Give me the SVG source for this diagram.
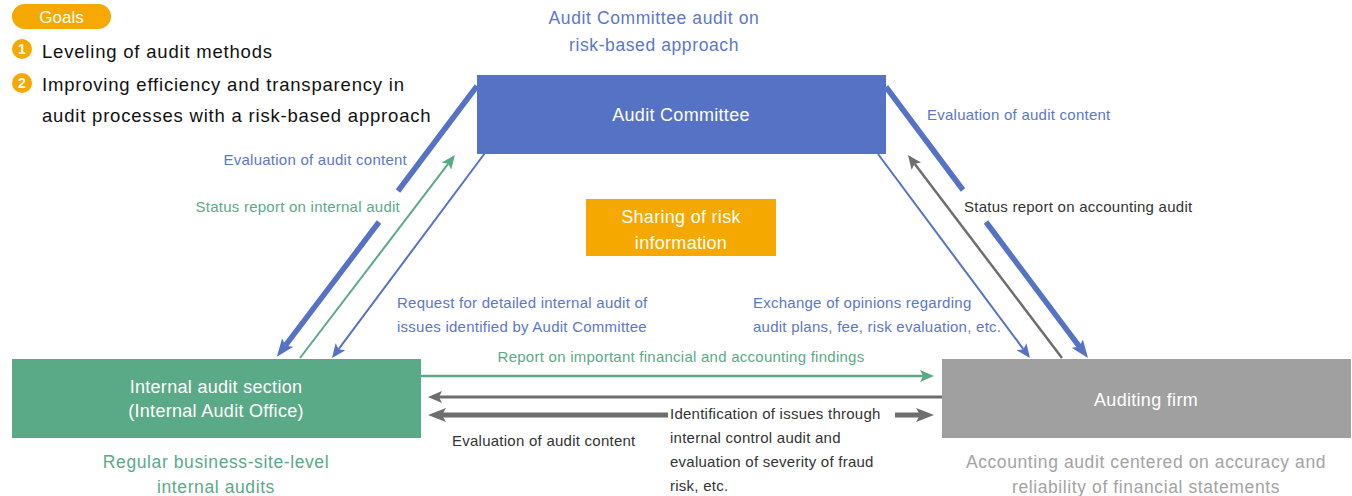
<svg xmlns="http://www.w3.org/2000/svg" width="1352" height="496" viewBox="0 0 1352 496">
<style>
text{font-family:"Liberation Sans",Arial,sans-serif;}
.lbl{font-size:15px;letter-spacing:0.25px;}
.note{font-size:17.5px;letter-spacing:0.6px;}
.blue{fill:#5B78C8;}
.green{fill:#5BAA87;}
.dark{fill:#333333;}
.grayt{fill:#A3A3A3;}
.white{fill:#ffffff;}
.big{font-size:18.5px;letter-spacing:0.8px;fill:#111111;}
.box{font-size:18px;letter-spacing:0.3px;fill:#ffffff;text-anchor:middle;}
</style>
<defs>
<marker id="hBlueThick" markerUnits="userSpaceOnUse" markerWidth="18" markerHeight="14" refX="4" refY="7" orient="auto"><path d="M0,0 L18,7 L0,14 L4,7 z" fill="#5572C4"/></marker>
<marker id="hBlue" markerUnits="userSpaceOnUse" markerWidth="14" markerHeight="12" refX="3" refY="6" orient="auto"><path d="M0,0 L14,6 L0,12 L3,6 z" fill="#5572C4"/></marker>
<marker id="hGreen" markerUnits="userSpaceOnUse" markerWidth="14" markerHeight="12" refX="3" refY="6" orient="auto"><path d="M0,0 L14,6 L0,12 L3,6 z" fill="#5BAA87"/></marker>
<marker id="hGray" markerUnits="userSpaceOnUse" markerWidth="14" markerHeight="12" refX="3" refY="6" orient="auto"><path d="M0,0 L14,6 L0,12 L3,6 z" fill="#6E6E6E"/></marker>
<marker id="hGrayThick" markerUnits="userSpaceOnUse" markerWidth="18" markerHeight="14" refX="4" refY="7" orient="auto"><path d="M0,0 L18,7 L0,14 L4,7 z" fill="#6E6E6E"/></marker>
</defs>

<g id="goals">
<rect x="12" y="4" width="99" height="25" rx="12.5" fill="#F5A800"/>
<text x="61.5" y="22.5" font-size="17" class="white" text-anchor="middle">Goals</text>
<circle cx="22" cy="49" r="10" fill="#F5A800"/>
<text x="22" y="54" font-size="14" font-weight="bold" class="white" text-anchor="middle">1</text>
<circle cx="22" cy="83" r="10" fill="#F5A800"/>
<text x="22" y="88" font-size="14" font-weight="bold" class="white" text-anchor="middle">2</text>
<text x="42" y="58" class="big">Leveling of audit methods</text>
<text x="42" y="91" class="big">Improving efficiency and transparency in</text>
<text x="42" y="122" class="big">audit processes with a risk-based approach</text>
</g>

<g id="committee-note">
<text x="654" y="24" class="note blue" text-anchor="middle">Audit Committee audit on</text>
<text x="654" y="51" class="note blue" text-anchor="middle">risk-based approach</text>
</g>

<g id="connectors" fill="none">
<line x1="477" y1="86" x2="398" y2="191" stroke="#5572C4" stroke-width="5.5"/>
<line x1="379" y1="222" x2="285.3" y2="345.7" stroke="#5572C4" stroke-width="5.5" marker-end="url(#hBlueThick)"/>
<line x1="300" y1="358" x2="448.3" y2="163.7" stroke="#5BAA87" stroke-width="2" marker-end="url(#hGreen)"/>
<line x1="485" y1="153" x2="338.6" y2="349.2" stroke="#5572C4" stroke-width="2" marker-end="url(#hBlue)"/>

<line x1="886" y1="87" x2="963" y2="190" stroke="#5572C4" stroke-width="5.5"/>
<line x1="986" y1="222" x2="1079.6" y2="346.8" stroke="#5572C4" stroke-width="5.5" marker-end="url(#hBlueThick)"/>
<line x1="1062" y1="358" x2="914.6" y2="163.8" stroke="#6E6E6E" stroke-width="2.5" marker-end="url(#hGray)"/>
<line x1="878" y1="154" x2="1023.4" y2="349.2" stroke="#5572C4" stroke-width="2" marker-end="url(#hBlue)"/>

<line x1="421" y1="376" x2="923" y2="376" stroke="#5BAA87" stroke-width="2.5" marker-end="url(#hGreen)"/>
<line x1="942" y1="397" x2="439" y2="397" stroke="#6E6E6E" stroke-width="3" marker-end="url(#hGray)"/>
<line x1="668" y1="415" x2="442" y2="415" stroke="#6E6E6E" stroke-width="5" marker-end="url(#hGrayThick)"/>
<line x1="895" y1="415" x2="920" y2="415" stroke="#6E6E6E" stroke-width="5" marker-end="url(#hGrayThick)"/>
</g>

<g id="audit-committee">
<rect x="477" y="75" width="409" height="79" fill="#5572C4"/>
<text x="681" y="121" class="box">Audit Committee</text>
</g>

<g id="sharing">
<rect x="586" y="199" width="190" height="57" fill="#F5A800"/>
<text x="681" y="223" class="box">Sharing of risk</text>
<text x="681" y="249" class="box">information</text>
</g>

<g id="internal-audit">
<rect x="12" y="359" width="409" height="79" fill="#5BAA87"/>
<text x="216" y="393" class="box">Internal audit section</text>
<text x="216" y="417" class="box">(Internal Audit Office)</text>
</g>

<g id="auditing-firm">
<rect x="942" y="359" width="409" height="79" fill="#9FA09F"/>
<text x="1146" y="406" class="box">Auditing firm</text>
</g>

<g id="labels">
<text x="407" y="165" class="lbl blue" text-anchor="end">Evaluation of audit content</text>
<text x="400" y="212" class="lbl green" text-anchor="end">Status report on internal audit</text>
<text x="397" y="308" class="lbl blue">Request for detailed internal audit of</text>
<text x="397" y="332" class="lbl blue">issues identified by Audit Committee</text>
<text x="927" y="120" class="lbl blue">Evaluation of audit content</text>
<text x="964" y="212" class="lbl dark">Status report on accounting audit</text>
<text x="753" y="308" class="lbl blue">Exchange of opinions regarding</text>
<text x="753" y="332" class="lbl blue">audit plans, fee, risk evaluation, etc.</text>
<text x="681" y="362" class="lbl green" text-anchor="middle">Report on important financial and accounting findings</text>
<text x="452" y="446" class="lbl dark">Evaluation of audit content</text>
<text x="670" y="419" class="lbl dark">Identification of issues through</text>
<text x="670" y="443" class="lbl dark">internal control audit and</text>
<text x="670" y="467" class="lbl dark">evaluation of severity of fraud</text>
<text x="670" y="491" class="lbl dark">risk, etc.</text>
<text x="216" y="468" class="note green" text-anchor="middle">Regular business-site-level</text>
<text x="216" y="493" class="note green" text-anchor="middle">internal audits</text>
<text x="1146" y="468" class="note grayt" text-anchor="middle">Accounting audit centered on accuracy and</text>
<text x="1146" y="493" class="note grayt" text-anchor="middle">reliability of financial statements</text>
</g>
</svg>
